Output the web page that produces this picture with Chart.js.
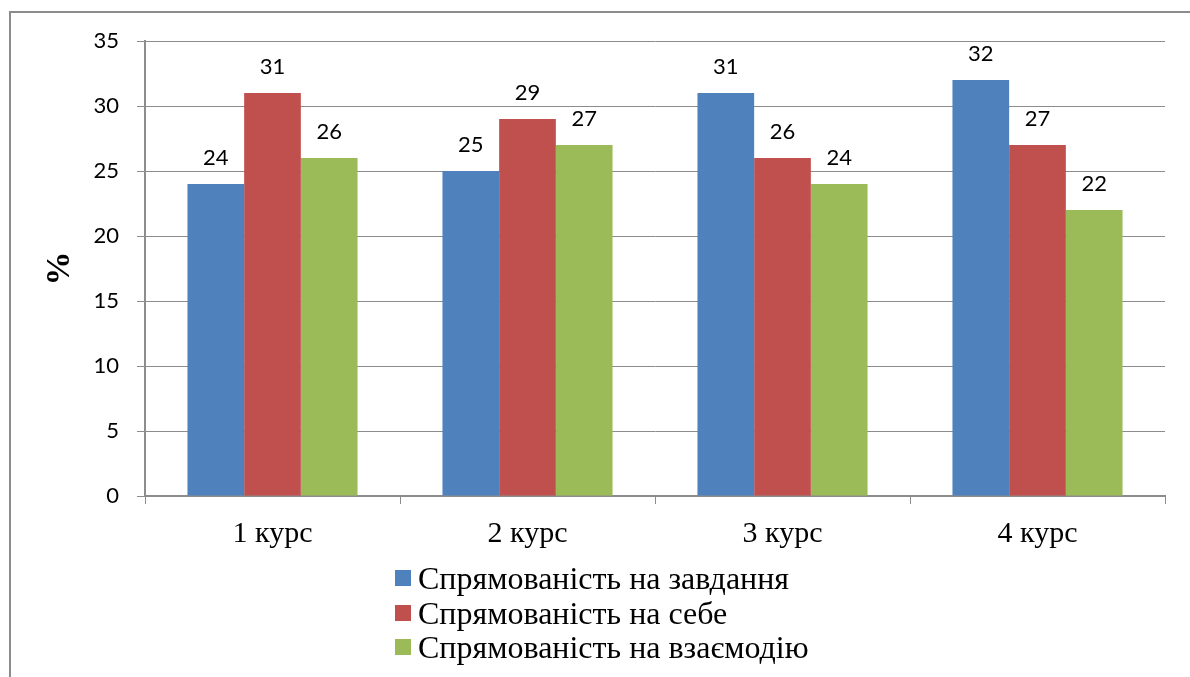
<!DOCTYPE html>
<html>
<head>
<meta charset="utf-8">
<script src="https://cdn.jsdelivr.net/npm/chart.js@4/dist/chart.umd.min.js"></script>
<style>
  html, body { margin: 0; padding: 0; background: #fff; overflow: hidden; }
  .frame { position: absolute; left: 9px; top: 11px; width: 1200px; height: 700px; border-left: 2px solid #8c8c8c; border-top: 2px solid #8c8c8c; box-sizing: border-box; }
  .wrap { position: absolute; left: 0; top: 0; width: 1190px; height: 677px; }
  .legend { position: absolute; left: 395px; top: 561px; font-family: 'Liberation Serif', 'Times New Roman', serif; font-size: 32px; color: #000; }
  .legend-item { height: 34.5px; line-height: 34.5px; display: flex; align-items: center; white-space: nowrap; }
  .legend-box { width: 16px; height: 16px; margin-right: 7px; flex: none; }
</style>
</head>
<body>
<div class="frame"></div>
<div class="wrap"><canvas id="chart"></canvas></div>
<div class="legend" id="legend"></div>
<script>
// Дані діаграми
const categories = ['1 курс', '2 курс', '3 курс', '4 курс'];
const seriesNames = ['Спрямованість на завдання', 'Спрямованість на себе', 'Спрямованість на взаємодію'];
const taskValues = [24, 25, 31, 32];
const selfValues = [31, 29, 26, 27];
const interactionValues = [26, 27, 24, 22];
const seriesColors = ['#4f81bd', '#c0504d', '#9bbb59'];
const yTicks = { min: 0, max: 35, step: 5 };

const seriesValues = [taskValues, selfValues, interactionValues];

// Легенда (вертикальна, як в оригіналі)
const legendEl = document.getElementById('legend');
seriesNames.forEach((name, i) => {
  const row = document.createElement('div');
  row.className = 'legend-item';
  const box = document.createElement('span');
  box.className = 'legend-box';
  box.style.background = seriesColors[i];
  const label = document.createElement('span');
  label.textContent = name;
  row.appendChild(box);
  row.appendChild(label);
  legendEl.appendChild(row);
});

// Підписи значень над стовпцями
const valueLabels = {
  id: 'valueLabels',
  afterDatasetsDraw(chart) {
    const ctx = chart.ctx;
    ctx.save();
    ctx.font = '22px Lato, "Open Sans", sans-serif';
    ctx.fillStyle = '#000';
    ctx.textAlign = 'center';
    ctx.textBaseline = 'middle';
    chart.data.datasets.forEach((ds, i) => {
      const meta = chart.getDatasetMeta(i);
      meta.data.forEach((bar, j) => {
        ctx.fillText(String(ds.data[j]), bar.x, bar.y - 26);
      });
    });
    ctx.restore();
  }
};

const axisGray = '#8c8c8c';

new Chart(document.getElementById('chart'), {
  type: 'bar',
  data: {
    labels: categories,
    datasets: seriesNames.map((name, i) => ({
      label: name,
      data: seriesValues[i],
      backgroundColor: seriesColors[i],
      borderWidth: 0,
      barPercentage: 1,
      categoryPercentage: 0.667
    }))
  },
  options: {
    responsive: true,
    maintainAspectRatio: false,
    animation: false,
    layout: { padding: { left: 40, right: 25, top: 41, bottom: 121 } },
    plugins: { legend: { display: false }, tooltip: { enabled: false } },
    scales: {
      x: {
        grid: { display: true, drawOnChartArea: false, drawTicks: true, tickLength: 8, color: axisGray, offset: true },
        border: { display: true, color: axisGray, width: 2 },
        ticks: { color: '#000', padding: 12, font: { family: 'Liberation Serif', size: 30 } },
        afterFit(scale) { scale.height = 60; }
      },
      y: {
        min: yTicks.min,
        max: yTicks.max,
        grid: { color: axisGray, lineWidth: 1, tickLength: 8 },
        border: { display: true, color: axisGray, width: 2 },
        ticks: { stepSize: yTicks.step, color: '#000', padding: 18, font: { family: 'Lato', size: 22 } },
        title: { display: true, text: '%', color: '#000', padding: 0, font: { family: 'Liberation Serif', size: 34, weight: 'bold' } },
        afterFit(scale) { scale.width = 105; }
      }
    }
  },
  plugins: [valueLabels]
});
</script>
</body>
</html>
